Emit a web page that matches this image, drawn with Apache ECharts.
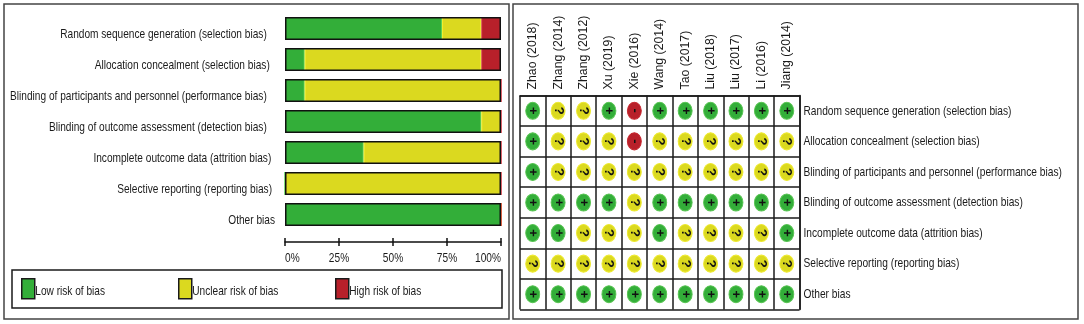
<!DOCTYPE html>
<html><head><meta charset="utf-8">
<style>html,body{margin:0;padding:0;background:#fff}#c{width:1084px;height:324px}</style>
<script src="https://cdn.jsdelivr.net/npm/echarts@6/dist/echarts.min.js"></script>
</head><body><div id="c"></div>
<script>
const domains = [
 'Random sequence generation (selection bias)',
 'Allocation concealment (selection bias)',
 'Blinding of participants and personnel (performance bias)',
 'Blinding of outcome assessment (detection bias)',
 'Incomplete outcome data (attrition bias)',
 'Selective reporting (reporting bias)',
 'Other bias'];
const studies = ['Zhao (2018)','Zhang (2014)','Zhang (2012)','Xu (2019)','Xie (2016)','Wang (2014)','Tao (2017)','Liu (2018)','Liu (2017)','Li (2016)','Jiang (2014)'];
const lowPct = [72.7, 9.1, 9.1, 90.9, 36.4, 0, 100];
const unclearPct = [18.2, 81.8, 90.9, 9.1, 63.6, 100, 0];
const highPct = [9.1, 9.1, 0, 0, 0, 0, 0];
const totalPct = [100,100,100,100,100,100,100];
const percentTicks = ['0%','25%','50%','75%','100%'];
const judgements = [
 ['+','?','?','+','-','+','+','+','+','+','+'],
 ['+','?','?','?','-','?','?','?','?','?','?'],
 ['+','?','?','?','?','?','?','?','?','?','?'],
 ['+','+','+','+','?','+','+','+','+','+','+'],
 ['+','+','?','?','?','+','?','?','?','?','+'],
 ['?','?','?','?','?','?','?','?','?','?','?'],
 ['+','+','+','+','+','+','+','+','+','+','+']];
const labelShift = [11,7,11,11,5,4,0];

const SANS = '"Liberation Sans",Arial,sans-serif';
const INK = '#1a1a1a';
const C = {low:'#33ae39', lowEdge:'#58cf52', unclear:'#dbd91f', unclearEdge:'#f0ee2a', high:'#b8202a', highEdge:'#d0303a'};
const fill = {'+':C.low,'?':C.unclear,'-':C.high};
const ring = {'+':'#58c452','?':'#eeea30','-':'#c62830'};
const cells = [];
judgements.forEach((row,r)=>row.forEach((j,c)=>cells.push({value:[c,r,j],itemStyle:{color:fill[j],borderColor:ring[j],borderWidth:1,opacity:1}})));

function stack(name,data,color,edge){
  return {name,type:'bar',stack:'s',xAxisIndex:0,yAxisIndex:0,data,barWidth:23,
    itemStyle:{color,borderColor:edge,borderWidth:1},emphasis:{disabled:true}};
}
function legendAt(name,left,color){
  return {data:[name],left,top:278,padding:0,itemWidth:13,itemHeight:20,selectedMode:false,
    icon:'rect',itemStyle:{color,borderColor:INK,borderWidth:1.5},
    formatter:n=>'\n'+n,
    textStyle:{fontFamily:SANS,fontSize:13.5,color:INK,lineHeight:6}};
}
const chart = echarts.init(document.getElementById('c'),null,{renderer:'canvas'});
chart.setOption({
  animation:false,
  backgroundColor:'#fff',
  graphic:[
   {type:'rect',silent:true,z:-1,shape:{x:4,y:4,width:505,height:315},style:{fill:'#fff',stroke:'#444',lineWidth:1.5}},
   {type:'rect',silent:true,z:-1,shape:{x:513,y:4,width:565,height:315},style:{fill:'#fff',stroke:'#444',lineWidth:1.5}},
   {type:'rect',silent:true,z:-1,shape:{x:12,y:270,width:490,height:38},style:{fill:'#fff',stroke:INK,lineWidth:1.5}}
  ],
  legend:[legendAt('Low risk of bias',21,C.low),legendAt('Unclear risk of bias',178,C.unclear),legendAt('High risk of bias',335,C.high)],
  grid:[
   {left:285,top:13,width:216,height:217,outerBoundsMode:'none',containLabel:false},
   {left:520,top:95.5,width:279.5,height:214,outerBoundsMode:'none',containLabel:false}
  ],
  xAxis:[
   {gridIndex:0,type:'value',min:0,max:100,interval:25,position:'bottom',offset:12,
    axisLine:{show:true,lineStyle:{color:'#111',width:1.5}},
    axisTick:{show:true,length:4,lineStyle:{color:'#111',width:1.5}},
    splitLine:{show:false},
    axisLabel:{formatter:v=>percentTicks[v/25],fontFamily:SANS,fontSize:13.5,color:INK,margin:9,alignMinLabel:'left',alignMaxLabel:'right',showMinLabel:true,showMaxLabel:true,hideOverlap:false}},
   {gridIndex:0,type:'value',min:0,max:100,interval:25,position:'bottom',offset:12,
    axisLine:{show:false},axisTick:{show:true,inside:true,length:4,lineStyle:{color:'#111',width:1.5}},
    splitLine:{show:false},axisLabel:{show:false}},
   {gridIndex:1,type:'category',data:studies,position:'top',
    axisLine:{show:true,lineStyle:{color:INK,width:1.5}},axisTick:{show:false},
    splitLine:{show:true,lineStyle:{color:INK,width:1.5}},
    axisLabel:{rotate:-90,interval:0,fontFamily:SANS,fontSize:12.3,color:INK,margin:6}}
  ],
  yAxis:[
   {gridIndex:0,type:'category',inverse:true,
    data:domains.map((d,i)=>({value:d,textStyle:{padding:[0,labelShift[i],0,0]}})),
    axisLine:{show:false},axisTick:{show:false},splitLine:{show:false},
    axisLabel:{interval:0,formatter:v=>'\n'+v,lineHeight:12,fontFamily:SANS,fontSize:13.5,color:INK,margin:10}},
   {gridIndex:1,type:'category',inverse:true,data:domains,position:'right',
    axisLine:{show:true,lineStyle:{color:INK,width:1.5}},axisTick:{show:false},
    splitLine:{show:true,lineStyle:{color:INK,width:1.5}},
    axisLabel:{interval:0,fontFamily:SANS,fontSize:13.6,color:INK,margin:4}}
  ],
  series:[
   stack('Low risk of bias',lowPct,C.low,C.lowEdge),
   stack('Unclear risk of bias',unclearPct,C.unclear,C.unclearEdge),
   stack('High risk of bias',highPct,C.high,C.highEdge),
   {name:'outline',type:'bar',xAxisIndex:0,yAxisIndex:0,data:totalPct,barWidth:23,barGap:'-100%',z:5,silent:true,
    itemStyle:{color:'transparent',borderColor:'#111',borderWidth:1.5}},
   {name:'judgement',type:'scatter',xAxisIndex:2,yAxisIndex:1,data:cells,symbol:'circle',symbolSize:[14,17],silent:true,
    encode:{x:0,y:1},
    label:{show:true,position:'inside',rotate:-90,formatter:p=>p.value[2],fontFamily:SANS,fontSize:13,fontWeight:'bold',color:'#111'}}
  ]
});
// The reference's horizontal text is optically condensed: narrow the glyphs around each label's anchor.
function condense(node){
  if(node.isGroup){node.eachChild(condense);return;}
  if(node.type!=='text')return;
  const m=node.getComputedTransform();
  if(!m||Math.abs(m[1])<1e-6){node.scaleX=0.75;node.markRedraw();}
}
chart.getZr().storage.getRoots().forEach(condense);
chart.getZr().refresh();
</script></body></html>
